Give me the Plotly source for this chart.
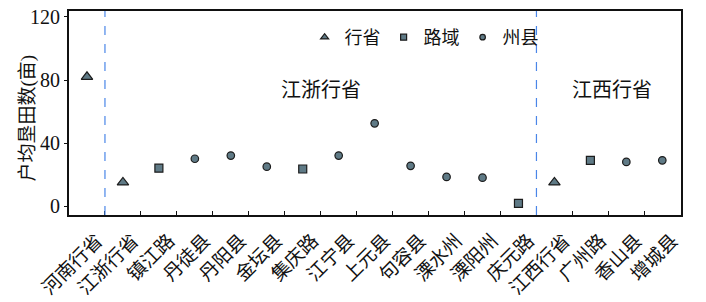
import plotly.graph_objects as go

categories = ["河南行省", "江浙行省", "镇江路", "丹徒县", "丹阳县", "金坛县", "集庆路",
              "江宁县", "上元县", "句容县", "溧水州", "溧阳州", "庆元路",
              "江西行省", "广州路", "香山县", "增城县"]
values = [82, 15, 24, 30, 32, 25, 23.5, 32, 52.5, 25.5, 18.5, 18, 1.7, 15, 29, 28, 29]
levels = ["行省", "行省", "路域", "州县", "州县", "州县", "路域",
          "州县", "州县", "州县", "州县", "州县", "路域",
          "行省", "路域", "州县", "州县"]
level_order = ["行省", "路域", "州县"]
region_labels = ["江浙行省", "江西行省"]
region_pos = [6.5, 14.6]
divider_pos = [0.5, 12.5]
ytick_vals = [0, 40, 80, 120]
y_title = "户均垦田数(亩)"

symbols = {"行省": "triangle-up", "路域": "square", "州县": "circle"}
sizes = {"行省": 10, "路域": 8, "州县": 7.5}
legend_sizes = {"行省": 7, "路域": 6, "州县": 5.5}

FONT = "Liberation Serif, Times New Roman, Noto Sans CJK SC"
fill = "#5f7a86"
edge = "#1c1c1c"

fig = go.Figure()
for lv in level_order:
    xs = [c for c, l in zip(categories, levels) if l == lv]
    ys = [v for v, l in zip(values, levels) if l == lv]
    fig.add_trace(go.Scatter(
        x=xs, y=ys, mode="markers", name=lv, showlegend=False, legendgroup=lv,
        marker=dict(symbol=symbols[lv], size=sizes[lv], color=fill,
                    line=dict(color=edge, width=1.2)),
    ))
    # legend-only entry with smaller symbol
    fig.add_trace(go.Scatter(
        x=[None], y=[None], mode="markers", name=lv, legendgroup=lv,
        marker=dict(symbol=symbols[lv], size=legend_sizes[lv], color=fill,
                    line=dict(color=edge, width=1.2)),
    ))

for d in divider_pos:
    fig.add_shape(type="line", xref="x", yref="paper", x0=d, x1=d, y0=0, y1=1,
                  line=dict(color="#4a86e8", width=1.2, dash="dash"))

for lab, pos in zip(region_labels, region_pos):
    fig.add_annotation(x=pos, y=73.6, xref="x", yref="y", text=lab, showarrow=False,
                       font=dict(family=FONT, size=20, color="#111"))

# y-axis title placed as a rotated annotation
fig.add_annotation(x=-0.0686, y=0.473, xref="paper", yref="paper", text=y_title,
                   textangle=-90, showarrow=False, xanchor="center", yanchor="middle",
                   font=dict(family=FONT, size=19, color="#111"))

fig.update_layout(
    width=706, height=302,
    margin=dict(l=69, r=25, t=11, b=87),
    plot_bgcolor="white", paper_bgcolor="white",
    font=dict(family=FONT, size=18, color="#111"),
    showlegend=True,
    legend=dict(orientation="h", x=0.385, y=0.87, xanchor="left", yanchor="middle",
                bgcolor="rgba(0,0,0,0)", font=dict(family=FONT, size=18),
                itemwidth=30, tracegroupgap=0, entrywidth=34, entrywidthmode="pixels"),
)
fig.update_xaxes(
    type="category", categoryorder="array", categoryarray=categories,
    range=[-0.5, 16.52], tickangle=-45, tickson="boundaries",
    ticks="inside", ticklen=4, tickcolor="#111",
    showline=True, linecolor="#111", linewidth=2, mirror=True,
    showgrid=False, tickfont=dict(family=FONT, size=19),
    ticklabelshift=10, ticklabelstandoff=5, automargin=False,
)
fig.update_yaxes(
    range=[-5.7, 123.8], tickvals=ytick_vals, ticks="outside", ticklen=3,
    tickcolor="#111",
    showline=True, linecolor="#111", linewidth=2, mirror=True,
    showgrid=False, zeroline=False, tickfont=dict(family=FONT, size=20),
    automargin=False,
)

fig.write_html("out.html")
